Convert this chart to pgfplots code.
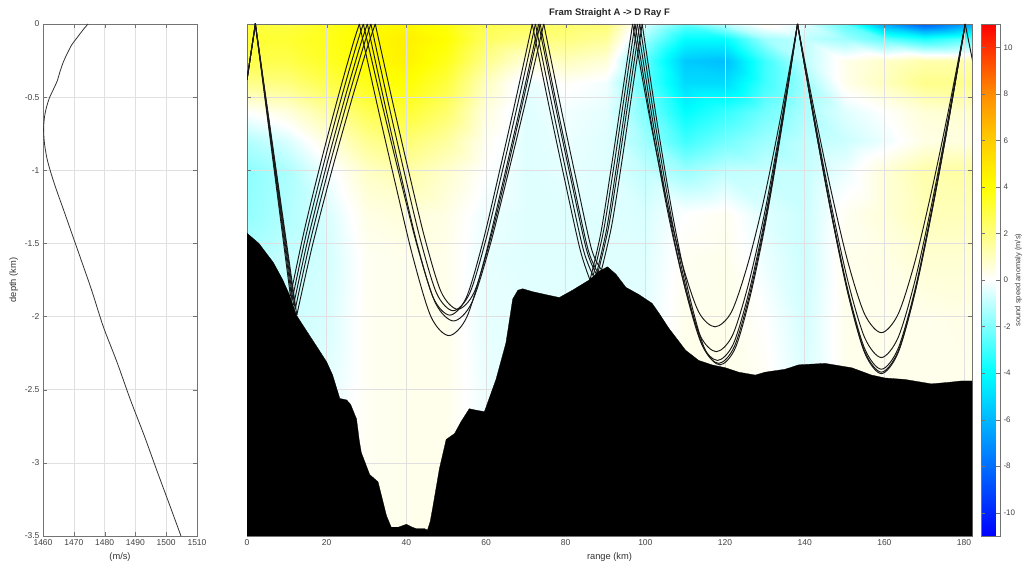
\documentclass[border=0pt]{standalone}
\usepackage{fontspec}
\setmainfont{Liberation Sans}
\usepackage{pgfplots}
\pgfplotsset{compat=1.18}
\pgfplotsset{
  colormap={anomaly}{rgb255(0)=(0,0,255) rgb255(3)=(0,110,255) rgb255(6)=(0,220,255) rgb255(7)=(0,255,255) rgb255(11)=(255,255,255) rgb255(15)=(255,255,0) rgb255(17)=(255,205,0) rgb255(19)=(255,140,0) rgb255(22)=(255,0,0)},
  ray/.style={black!90, line width=0.95pt, smooth, tension=0.5, forget plot, no markers},
  raypl/.style={black!90, line width=0.95pt, forget plot, no markers},
  mystyle/.style={
    scale only axis, height=512pt,
    grid=major, major grid style={black!12, line width=0.5pt},
    axis line style={black!55}, tick style={black!55}, major tick length=4pt,
    tick label style={font=\fontsize{8.5}{10}\selectfont, text=black!75},
    label style={font=\fontsize{9.3}{11}\selectfont, text=black!80},
    /pgf/number format/assume math mode=true, /pgf/number format/1000 sep={},
    ymin=-3.5, ymax=0, ytick={-3.5,-3,-2.5,-2,-1.5,-1,-0.5,0},
  }
}
\begin{document}
\begin{tikzpicture}
\path[use as bounding box] (0,0) rectangle (1034pt,570pt);
% ---------------- left: sound speed profile
\begin{axis}[mystyle, at={(43pt,34pt)}, anchor=south west, width=154pt,
  xmin=1460, xmax=1510, xtick={1460,1470,1480,1490,1500,1510},
  xlabel={(m/s)}, ylabel={depth (km)}]
\addplot[black!80, line width=0.8pt, smooth, tension=0.5] coordinates {
(1474.6,0) (1473.0,-0.04) (1471.2,-0.09) (1469.4,-0.14) (1467.9,-0.2) (1466.6,-0.26)
(1465.6,-0.32) (1464.6,-0.39) (1463.3,-0.45) (1462.0,-0.51) (1461.0,-0.58) (1460.4,-0.65)
(1460.2,-0.73) (1460.5,-0.82) (1461.3,-0.92) (1462.6,-1.02) (1464.3,-1.13) (1466.5,-1.26)
(1469.0,-1.41) (1472.0,-1.59) (1475.8,-1.82) (1479.6,-2.07) (1484.0,-2.31) (1488.4,-2.57)
(1492.8,-2.81) (1497.1,-3.06) (1501.5,-3.31) (1504.8,-3.5)};
\end{axis}
% ---------------- right: anomaly field (background)
\begin{axis}[at={(247pt,34pt)}, anchor=south west, scale only axis, width=725pt, height=512pt,
  xmin=0, xmax=182, ymin=-3.5, ymax=0, zmin=-1, zmax=1, view={0}{90}, hide axis,
  colormap name=anomaly, point meta min=-11, point meta max=11]
\addplot3[surf, shader=interp, mesh/cols=19, point meta=explicit] coordinates {
(0,0,0)[3.0] (10,0,0)[3.0] (20,0,0)[3.5] (30,0,0)[4.0] (40,0,0)[4.3] (50,0,0)[3.8] (60,0,0)[2.8] (70,0,0)[2.6] (80,0,0)[2.3] (90,0,0)[2.2] (100,0,0)[-0.5] (110,0,0)[-2.5] (120,0,0)[-1.0] (130,0,0)[0.3] (140,0,0)[-0.5] (150,0,0)[-2.5] (160,0,0)[-6.5] (170,0,0)[-8.5] (182,0,0)[-6.5]
(0,-0.1,0)[3.2] (10,-0.1,0)[3.2] (20,-0.1,0)[3.6] (30,-0.1,0)[4.2] (40,-0.1,0)[4.6] (50,-0.1,0)[4.0] (60,-0.1,0)[2.5] (70,-0.1,0)[2.0] (80,-0.1,0)[2.0] (90,-0.1,0)[1.6] (100,-0.1,0)[-1.5] (110,-0.1,0)[-4.0] (120,-0.1,0)[-4.0] (130,-0.1,0)[-1.5] (140,-0.1,0)[-1.0] (150,-0.1,0)[-1.5] (160,-0.1,0)[-2.5] (170,-0.1,0)[-3.5] (182,-0.1,0)[-2.5]
(0,-0.25,0)[2.8] (10,-0.25,0)[2.8] (20,-0.25,0)[3.4] (30,-0.25,0)[4.1] (40,-0.25,0)[4.5] (50,-0.25,0)[3.6] (60,-0.25,0)[1.8] (70,-0.25,0)[0.6] (80,-0.25,0)[1.0] (90,-0.25,0)[0.6] (100,-0.25,0)[-2.5] (110,-0.25,0)[-5.5] (120,-0.25,0)[-5.8] (130,-0.25,0)[-3.0] (140,-0.25,0)[-1.0] (150,-0.25,0)[0.3] (160,-0.25,0)[0.8] (170,-0.25,0)[1.3] (182,-0.25,0)[1.3]
(0,-0.4,0)[1.8] (10,-0.4,0)[2.0] (20,-0.4,0)[2.8] (30,-0.4,0)[3.6] (40,-0.4,0)[4.0] (50,-0.4,0)[3.0] (60,-0.4,0)[1.0] (70,-0.4,0)[-0.4] (80,-0.4,0)[0.1] (90,-0.4,0)[-0.2] (100,-0.4,0)[-2.5] (110,-0.4,0)[-5.0] (120,-0.4,0)[-5.0] (130,-0.4,0)[-3.0] (140,-0.4,0)[-1.5] (150,-0.4,0)[0.3] (160,-0.4,0)[1.0] (170,-0.4,0)[1.8] (182,-0.4,0)[1.8]
(0,-0.6,0)[0.0] (10,-0.6,0)[0.5] (20,-0.6,0)[1.5] (30,-0.6,0)[2.7] (40,-0.6,0)[3.2] (50,-0.6,0)[2.3] (60,-0.6,0)[0.5] (70,-0.6,0)[-0.5] (80,-0.6,0)[-0.2] (90,-0.6,0)[-0.4] (100,-0.6,0)[-2.0] (110,-0.6,0)[-4.0] (120,-0.6,0)[-3.2] (130,-0.6,0)[-2.2] (140,-0.6,0)[-1.3] (150,-0.6,0)[-0.5] (160,-0.6,0)[0.0] (170,-0.6,0)[0.6] (182,-0.6,0)[0.8]
(0,-0.8,0)[-1.2] (10,-0.8,0)[-0.6] (20,-0.8,0)[0.5] (30,-0.8,0)[1.7] (40,-0.8,0)[2.2] (50,-0.8,0)[1.5] (60,-0.8,0)[0.2] (70,-0.8,0)[-0.5] (80,-0.8,0)[-0.3] (90,-0.8,0)[-0.5] (100,-0.8,0)[-1.5] (110,-0.8,0)[-3.0] (120,-0.8,0)[-2.2] (130,-0.8,0)[-1.5] (140,-0.8,0)[-1.0] (150,-0.8,0)[-0.8] (160,-0.8,0)[-0.3] (170,-0.8,0)[0.4] (182,-0.8,0)[0.5]
(0,-1.0,0)[-1.8] (10,-1.0,0)[-1.3] (20,-1.0,0)[-0.2] (30,-1.0,0)[0.9] (40,-1.0,0)[1.4] (50,-1.0,0)[0.8] (60,-1.0,0)[0.0] (70,-1.0,0)[-0.5] (80,-1.0,0)[-0.4] (90,-1.0,0)[-0.5] (100,-1.0,0)[-1.0] (110,-1.0,0)[-1.6] (120,-1.0,0)[-1.0] (130,-1.0,0)[-0.9] (140,-1.0,0)[-0.9] (150,-1.0,0)[-0.3] (160,-1.0,0)[0.6] (170,-1.0,0)[1.3] (182,-1.0,0)[1.5]
(0,-1.3,0)[-1.7] (10,-1.3,0)[-1.2] (20,-1.3,0)[-0.6] (30,-1.3,0)[0.4] (40,-1.3,0)[0.6] (50,-1.3,0)[0.4] (60,-1.3,0)[-0.3] (70,-1.3,0)[-0.5] (80,-1.3,0)[-0.5] (90,-1.3,0)[-0.5] (100,-1.3,0)[-0.6] (110,-1.3,0)[0.0] (120,-1.3,0)[0.2] (130,-1.3,0)[-0.5] (140,-1.3,0)[-0.8] (150,-1.3,0)[0.2] (160,-1.3,0)[0.6] (170,-1.3,0)[1.1] (182,-1.3,0)[1.1]
(0,-1.6,0)[-1.1] (10,-1.6,0)[-0.9] (20,-1.6,0)[-0.7] (30,-1.6,0)[0.2] (40,-1.6,0)[0.3] (50,-1.6,0)[0.3] (60,-1.6,0)[-0.4] (70,-1.6,0)[-0.5] (80,-1.6,0)[-0.5] (90,-1.6,0)[-0.5] (100,-1.6,0)[-0.5] (110,-1.6,0)[0.2] (120,-1.6,0)[0.3] (130,-1.6,0)[-0.3] (140,-1.6,0)[-0.8] (150,-1.6,0)[0.3] (160,-1.6,0)[0.4] (170,-1.6,0)[0.7] (182,-1.6,0)[0.7]
(0,-2.0,0)[-0.8] (10,-2.0,0)[-0.8] (20,-2.0,0)[-0.6] (30,-2.0,0)[0.2] (40,-2.0,0)[0.3] (50,-2.0,0)[0.3] (60,-2.0,0)[-0.4] (70,-2.0,0)[-0.4] (80,-2.0,0)[-0.4] (90,-2.0,0)[-0.5] (100,-2.0,0)[-0.4] (110,-2.0,0)[0.3] (120,-2.0,0)[0.3] (130,-2.0,0)[0.0] (140,-2.0,0)[-0.7] (150,-2.0,0)[0.3] (160,-2.0,0)[0.3] (170,-2.0,0)[0.3] (182,-2.0,0)[0.4]
(0,-2.6,0)[-0.6] (10,-2.6,0)[-0.6] (20,-2.6,0)[-0.4] (30,-2.6,0)[0.2] (40,-2.6,0)[0.3] (50,-2.6,0)[0.3] (60,-2.6,0)[-0.3] (70,-2.6,0)[-0.4] (80,-2.6,0)[-0.4] (90,-2.6,0)[-0.4] (100,-2.6,0)[-0.3] (110,-2.6,0)[0.3] (120,-2.6,0)[0.3] (130,-2.6,0)[0.2] (140,-2.6,0)[-0.5] (150,-2.6,0)[0.3] (160,-2.6,0)[0.3] (170,-2.6,0)[0.3] (182,-2.6,0)[0.3]
(0,-3.5,0)[-0.5] (10,-3.5,0)[-0.5] (20,-3.5,0)[-0.3] (30,-3.5,0)[0.2] (40,-3.5,0)[0.3] (50,-3.5,0)[0.3] (60,-3.5,0)[-0.3] (70,-3.5,0)[-0.4] (80,-3.5,0)[-0.4] (90,-3.5,0)[-0.4] (100,-3.5,0)[-0.3] (110,-3.5,0)[0.3] (120,-3.5,0)[0.3] (130,-3.5,0)[0.2] (140,-3.5,0)[-0.3] (150,-3.5,0)[0.3] (160,-3.5,0)[0.3] (170,-3.5,0)[0.3] (182,-3.5,0)[0.3]
};
\end{axis}
% ---------------- right: rays, bathymetry, grid, colorbar
\begin{axis}[mystyle, at={(247pt,34pt)}, anchor=south west, width=725pt,
  xmin=0, xmax=182, xtick={0,20,40,60,80,100,120,140,160,180}, yticklabels={},
  xlabel={range (km)},
  title={Fram Straight A -> D Ray F},
  title style={font=\fontsize{9.5}{11}\selectfont\bfseries, text=black!85, at={(0.5,1)}, anchor=south, yshift=-3pt},
  colormap name=anomaly, point meta min=-11, point meta max=11,
  colorbar,
  colorbar style={at={(parent axis.north east)}, anchor=north west, xshift=0.5pt,
    scale only axis, width=19pt, height=512pt,
    ytick={-10,-8,-6,-4,-2,0,2,4,6,8,10},
    axis line style={black!55}, tick style={black!55},
    yticklabel style={font=\fontsize{8}{10}\selectfont, text=black!75},
    ylabel={sound speed anomaly (m/s)},
    ylabel style={font=\fontsize{7.5}{9}\selectfont, text=black!75, at={(axis description cs:1.97,0.5)}, anchor=center},
    /pgf/number format/assume math mode=true},
]
% ---- ray 0
\addplot[raypl] coordinates {(0,-0.38) (2.1,0) (10.9,-1.86)};
\addplot[ray] coordinates {(10.9,-1.86) (14.36,-1.414) (18.69,-0.93) (23.01,-0.484) (26.47,-0.149) (28.2,0)};
\addplot[ray] coordinates {(28.2,0) (32.7,-0.554) (37.2,-1.086) (41.7,-1.598) (46.2,-2.002) (50.7,-2.13) (55.2,-2.002) (59.7,-1.598) (64.2,-1.086) (68.7,-0.554) (73.2,0)};
\addplot[ray] coordinates {(73.2,0) (77.2,-0.533) (81.2,-1.046) (85.2,-1.54) (87.7,-1.71)};
\addplot[ray] coordinates {(87.7,-1.71) (90.28,-1.402) (92.85,-0.958) (95.43,-0.479) (98.0,0)};
\addplot[ray] coordinates {(98.0,0) (102.02,-0.69) (106.04,-1.311) (110.06,-1.817) (114.08,-2.185) (118.1,-2.30) (122.12,-2.185) (126.14,-1.817) (130.16,-1.311) (134.18,-0.69) (138.2,0)};
\addplot[ray] coordinates {(138.2,0) (142.41,-0.661) (146.62,-1.274) (150.83,-1.817) (155.04,-2.218) (159.25,-2.36) (163.46,-2.218) (167.67,-1.817) (171.88,-1.274) (176.09,-0.661) (180.3,0)};
% ---- ray 1
\addplot[raypl] coordinates {(0,-0.38) (2.1,0) (11.3,-1.89)};
\addplot[ray] coordinates {(11.3,-1.89) (14.88,-1.436) (19.36,-0.945) (23.83,-0.491) (27.41,-0.151) (29.2,0)};
\addplot[ray] coordinates {(29.2,0) (33.73,-0.528) (38.26,-1.035) (42.79,-1.523) (47.32,-1.908) (51.85,-2.03) (56.38,-1.908) (60.91,-1.523) (65.44,-1.035) (69.97,-0.528) (74.5,0)};
\addplot[ray] coordinates {(74.5,0) (78.5,-0.533) (82.5,-1.046) (86.5,-1.54) (89.0,-1.68)};
\addplot[ray] coordinates {(89.0,-1.68) (91.55,-1.378) (94.1,-0.941) (96.65,-0.470) (99.2,0)};
\addplot[ray] coordinates {(99.2,0) (103.1,-0.699) (107.0,-1.328) (110.9,-1.841) (114.8,-2.214) (118.7,-2.33) (122.6,-2.214) (126.5,-1.841) (130.4,-1.328) (134.3,-0.699) (138.2,0)};
\addplot[ray] coordinates {(138.2,0) (142.41,-0.669) (146.62,-1.291) (150.83,-1.84) (155.04,-2.247) (159.25,-2.39) (163.46,-2.247) (167.67,-1.84) (171.88,-1.291) (176.09,-0.669) (180.3,0)};
% ---- ray 2
\addplot[raypl] coordinates {(0,-0.38) (2.1,0) (11.7,-1.92)};
\addplot[ray] coordinates {(11.7,-1.92) (15.4,-1.459) (20.03,-0.96) (24.65,-0.499) (28.35,-0.154) (30.2,0)};
\addplot[ray] coordinates {(30.2,0) (34.34,-0.517) (38.48,-1.015) (42.62,-1.493) (46.76,-1.871) (50.9,-1.99) (55.04,-1.871) (59.18,-1.493) (63.32,-1.015) (67.46,-0.517) (71.6,0)};
\addplot[ray] coordinates {(71.6,0) (75.6,-0.533) (79.6,-1.046) (83.6,-1.54) (86.1,-1.75)};
\addplot[ray] coordinates {(86.1,-1.75) (88.78,-1.435) (91.45,-0.98) (94.13,-0.49) (96.8,0)};
\addplot[ray] coordinates {(96.8,0) (100.94,-0.621) (105.08,-1.180) (109.22,-1.635) (113.36,-1.967) (117.5,-2.07) (121.64,-1.967) (125.78,-1.635) (129.92,-1.180) (134.06,-0.621) (138.2,0)};
\addplot[ray] coordinates {(138.2,0) (142.41,-0.591) (146.62,-1.139) (150.83,-1.625) (155.04,-1.983) (159.25,-2.11) (163.46,-1.983) (167.67,-1.625) (171.88,-1.139) (176.09,-0.591) (180.3,0)};
% ---- ray 3
\addplot[raypl] coordinates {(0,-0.38) (2.1,0) (12.1,-1.95)};
\addplot[ray] coordinates {(12.1,-1.95) (15.9,-1.482) (20.65,-0.975) (25.4,-0.507) (29.2,-0.156) (31.1,0)};
\addplot[ray] coordinates {(31.1,0) (35.23,-0.510) (39.36,-1.0) (43.49,-1.47) (47.62,-1.842) (51.75,-1.96) (55.88,-1.842) (60.01,-1.47) (64.14,-1.0) (68.27,-0.510) (72.4,0)};
\addplot[ray] coordinates {(72.4,0) (76.4,-0.533) (80.4,-1.046) (84.4,-1.54) (86.9,-1.72)};
\addplot[ray] coordinates {(86.9,-1.72) (89.53,-1.41) (92.15,-0.963) (94.78,-0.482) (97.4,0)};
\addplot[ray] coordinates {(97.4,0) (101.48,-0.672) (105.56,-1.277) (109.64,-1.770) (113.72,-2.128) (117.8,-2.24) (121.88,-2.128) (125.96,-1.770) (130.04,-1.277) (134.12,-0.672) (138.2,0)};
\addplot[ray] coordinates {(138.2,0) (142.41,-0.638) (146.62,-1.231) (150.83,-1.756) (155.04,-2.143) (159.25,-2.28) (163.46,-2.143) (167.67,-1.756) (171.88,-1.231) (176.09,-0.638) (180.3,0)};
% ---- ray 4
\addplot[raypl] coordinates {(0,-0.38) (2.1,0) (12.5,-1.99)};
\addplot[ray] coordinates {(12.5,-1.99) (16.44,-1.512) (21.37,-0.995) (26.29,-0.517) (30.23,-0.159) (32.2,0)};
\addplot[ray] coordinates {(32.2,0) (36.34,-0.507) (40.48,-0.995) (44.62,-1.463) (48.76,-1.833) (52.9,-1.95) (57.04,-1.833) (61.18,-1.463) (65.32,-0.995) (69.46,-0.507) (73.6,0)};
\addplot[ray] coordinates {(73.6,0) (77.6,-0.533) (81.6,-1.046) (85.6,-1.54) (88.1,-1.70)};
\addplot[ray] coordinates {(88.1,-1.70) (90.73,-1.394) (93.35,-0.952) (95.98,-0.476) (98.6,0)};
\addplot[ray] coordinates {(98.6,0) (102.56,-0.696) (106.52,-1.322) (110.48,-1.833) (114.44,-2.204) (118.4,-2.32) (122.36,-2.204) (126.32,-1.833) (130.28,-1.322) (134.24,-0.696) (138.2,0)};
\addplot[ray] coordinates {(138.2,0) (142.41,-0.666) (146.62,-1.285) (150.83,-1.833) (155.04,-2.237) (159.25,-2.38) (163.46,-2.237) (167.67,-1.833) (171.88,-1.285) (176.09,-0.666) (180.3,0)};
% ---- last descent
\addplot[raypl] coordinates {(180.3,0) (182.5,-0.3)};
% ---- bathymetry
\addplot[fill=black, draw=black, line width=0.3pt, forget plot] coordinates {
(0,-3.6) (0,-1.43) (3,-1.50) (6.6,-1.63) (9,-1.75) (10.8,-1.86) (12.4,-1.99) (15,-2.10) (17.4,-2.20)
(20,-2.31) (21.5,-2.40) (23.3,-2.56) (25,-2.57) (26,-2.60) (27.5,-2.70) (28.2,-2.85) (28.7,-2.93)
(30.8,-3.08) (32.9,-3.13) (34,-3.25) (35,-3.36) (36.2,-3.44) (38,-3.44) (40,-3.42) (41.5,-3.44)
(42.5,-3.45) (44.6,-3.45) (45.3,-3.46) (46.0,-3.40) (46.6,-3.31) (48.3,-3.04) (50,-2.84) (52.1,-2.80)
(53.7,-2.72) (55.8,-2.63) (57.5,-2.64) (59.6,-2.65) (62.5,-2.43) (65,-2.18) (66.7,-1.88) (68,-1.82)
(69.2,-1.81) (71.7,-1.83) (75,-1.85) (78.4,-1.87) (81.7,-1.82) (85.9,-1.75) (88.4,-1.69) (90.5,-1.66)
(92.6,-1.71) (95.1,-1.80) (98.4,-1.85) (101.7,-1.91) (103.5,-1.98) (105.9,-2.08) (110.1,-2.23)
(113.4,-2.30) (116.7,-2.33) (120.1,-2.35) (123.4,-2.38) (127.6,-2.40) (130.1,-2.38) (135.1,-2.36)
(138.5,-2.33) (145.1,-2.32) (151.8,-2.35) (156.8,-2.40) (160.2,-2.42) (165.2,-2.43) (171.8,-2.46)
(176,-2.45) (179.4,-2.44) (182,-2.44) (182,-3.6)};
\end{axis}
\end{tikzpicture}
\end{document}
